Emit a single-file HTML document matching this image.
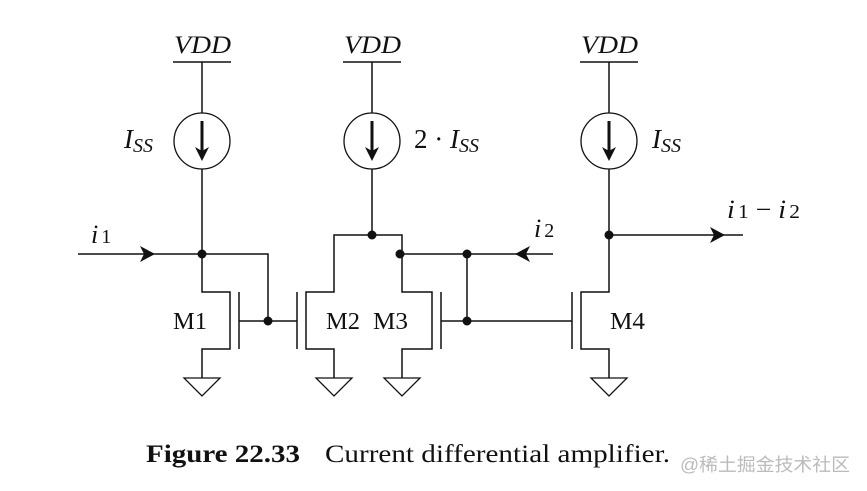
<!DOCTYPE html>
<html><head><style>
body{margin:0;background:#fff;}
svg{display:block;}
text{font-family:"Liberation Serif",serif;fill:#111;}
</style></head><body>
<svg width="867" height="491" viewBox="0 0 867 491">
<defs>
<g id="gnd"><polygon points="-18,0 18,0 0,18" fill="none" stroke="#111" stroke-width="1.3"/></g>
<g id="cs"><circle cx="0" cy="0" r="28" fill="none" stroke="#111" stroke-width="1.3"/><line x1="0" y1="-20" x2="0" y2="14" stroke="#111" stroke-width="3"/><polygon points="-7,6 0,20 7,6 0,10" fill="#111"/></g>
</defs>
<g stroke="#111" stroke-width="1.5" fill="none">
<line x1="173" y1="62" x2="231" y2="62"/><line x1="343" y1="62" x2="401" y2="62"/><line x1="580" y1="62" x2="638" y2="62"/>
<line x1="202" y1="62" x2="202" y2="113"/><line x1="372" y1="62" x2="372" y2="113"/><line x1="609" y1="62" x2="609" y2="113"/>
<line x1="202" y1="169" x2="202" y2="254"/><line x1="372" y1="169" x2="372" y2="235"/><line x1="609" y1="169" x2="609" y2="235"/>
<line x1="78" y1="254" x2="202" y2="254"/>
<polyline points="202,254 268,254 268,321"/>
<polyline points="202,254 202,292 230,292 230,349 202,349 202,378"/>
<line x1="239" y1="292" x2="239" y2="349"/>
<line x1="239" y1="321" x2="297" y2="321"/>
<line x1="297" y1="292" x2="297" y2="349"/>
<polyline points="334,378 334,349 306,349 306,292 334,292 334,235 402,235 402,254"/>
<polyline points="402,254 402,292 432,292 432,349 402,349 402,378"/>
<line x1="441" y1="292" x2="441" y2="349"/>
<line x1="402" y1="254" x2="553" y2="254"/>
<line x1="467" y1="254" x2="467" y2="321"/>
<line x1="441" y1="321" x2="572" y2="321"/>
<line x1="572" y1="292" x2="572" y2="349"/>
<polyline points="609,235 609,292 581,292 581,349 609,349 609,378"/>
<line x1="609" y1="235" x2="743" y2="235"/>
</g>
<polygon points="155,254 140,246 144,254 140,262" fill="#111"/>
<polygon points="515,254 530,246 526,254 530,262" fill="#111"/>
<polygon points="725,235 710,227 714,235 710,243" fill="#111"/>
<g fill="#111"><circle cx="202" cy="254" r="4.5"/><circle cx="268" cy="321" r="4.5"/><circle cx="372" cy="235" r="4.5"/><circle cx="400" cy="254" r="4.5"/><circle cx="467" cy="254" r="4.5"/><circle cx="467" cy="321" r="4.5"/><circle cx="609" cy="235" r="4.5"/></g>
<use href="#cs" x="202" y="141"/><use href="#cs" x="372" y="141"/><use href="#cs" x="609" y="141"/>
<use href="#gnd" x="202" y="378"/><use href="#gnd" x="334" y="378"/><use href="#gnd" x="402" y="378"/><use href="#gnd" x="609" y="378"/>
<g font-style="italic" font-size="25">
<text x="174" y="53" textLength="57" lengthAdjust="spacingAndGlyphs">VDD</text>
<text x="344" y="53" textLength="57" lengthAdjust="spacingAndGlyphs">VDD</text>
<text x="581" y="53" textLength="57" lengthAdjust="spacingAndGlyphs">VDD</text>
</g>
<text x="124" y="148" font-size="27" font-style="italic">I<tspan font-size="20" dy="4">SS</tspan></text>
<text x="414" y="148" font-size="27">2 · <tspan font-style="italic">I</tspan><tspan font-size="20" dy="4" font-style="italic">SS</tspan></text>
<text x="652" y="148" font-size="27" font-style="italic">I<tspan font-size="20" dy="4">SS</tspan></text>
<text x="91" y="243" font-size="26" font-style="italic">i<tspan font-size="20" font-style="normal" dx="3">1</tspan></text>
<text x="534" y="237" font-size="26" font-style="italic">i<tspan font-size="20" font-style="normal" dx="3">2</tspan></text>
<text x="727" y="218" font-size="26" font-style="italic" textLength="73" lengthAdjust="spacingAndGlyphs">i<tspan font-size="20" font-style="normal" dx="3">1</tspan><tspan font-style="normal"> − </tspan>i<tspan font-size="20" font-style="normal" dx="3">2</tspan></text>
<g font-size="24">
<text x="173" y="329" textLength="34" lengthAdjust="spacingAndGlyphs">M1</text>
<text x="326" y="329" textLength="34" lengthAdjust="spacingAndGlyphs">M2</text>
<text x="373" y="329" textLength="35" lengthAdjust="spacingAndGlyphs">M3</text>
<text x="610" y="329" textLength="35" lengthAdjust="spacingAndGlyphs">M4</text>
</g>
<text x="146" y="462" font-size="25" font-weight="bold" textLength="154" lengthAdjust="spacingAndGlyphs">Figure 22.33</text>
<text x="325" y="462" font-size="25" textLength="345" lengthAdjust="spacingAndGlyphs">Current differential amplifier.</text>
<text x="680" y="471" font-size="18" textLength="170" lengthAdjust="spacingAndGlyphs" style="fill:#bbb;font-family:'Liberation Sans','Noto Sans CJK SC',sans-serif">@稀土掘金技术社区</text>
</svg>
</body></html>
